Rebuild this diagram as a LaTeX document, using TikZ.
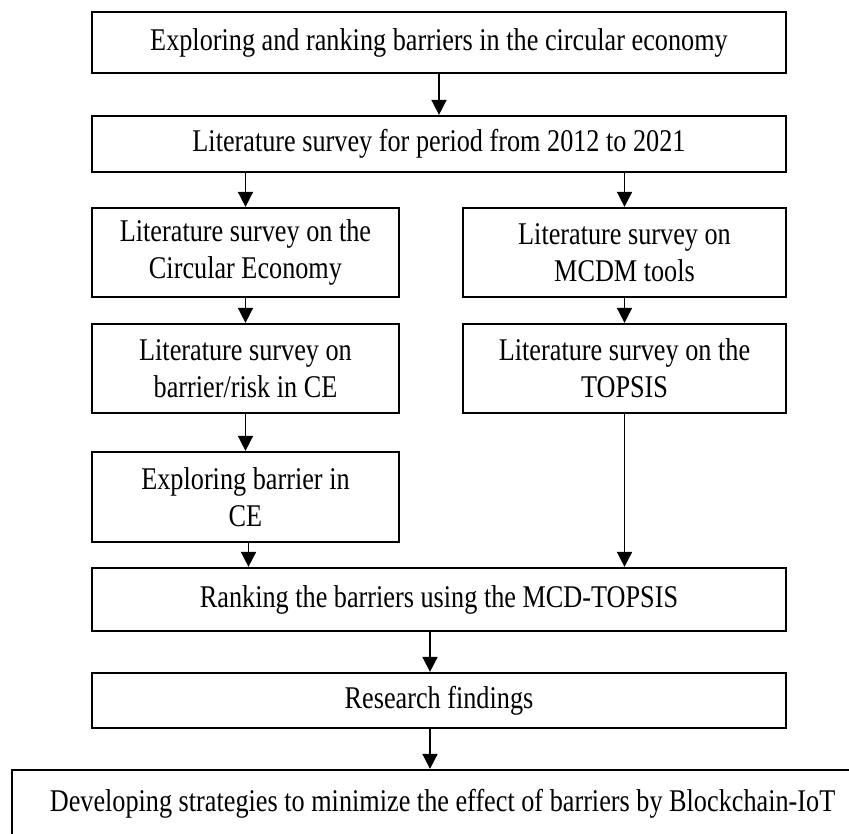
\documentclass[tikz,border=0pt]{standalone}
\usepackage{fontspec}
\setmainfont[FakeStretch=0.83]{Liberation Serif}
\usepackage{tikz}
\usetikzlibrary{arrows.meta}

\begin{document}
\begin{tikzpicture}[
    x=0.5pt, y=-0.5pt,
    every node/.style={draw, line width=1.1pt, align=center, inner sep=0pt,
      font=\fontsize{15.8}{18.5}\selectfont},
    seta/.style={-{Triangle[length=7.5pt,width=7.5pt]}, line width=0.8pt}
  ]
  \tikzset{
    larga/.style={minimum width=347pt},
    esq/.style={minimum width=153.5pt, minimum height=44.5pt},
    dir/.style={minimum width=161.5pt, minimum height=44.5pt}
  }
  \path[use as bounding box, clip] (0,0) rectangle (849,833);
  % caixas
  \node[larga, minimum height=30.5pt] (topo) at (439,42.5) {Exploring and ranking barriers in the circular economy};
  \node[larga, minimum height=28pt] (lit) at (439,144) {Literature survey for period from 2012 to 2021};
  \node[esq] (ce) at (245.5,252.5) {Literature survey on the\\Circular Economy};
  \node[dir] (mcdm) at (624.5,252.5) {Literature survey on\\MCDM tools};
  \node[esq] (risco) at (245.5,368.5) {Literature survey on\\barrier/risk in CE};
  \node[dir] (topsis) at (624.5,368.5) {Literature survey on the\\TOPSIS};
  \node[esq, minimum height=45pt] (expl) at (245.5,497) {Exploring barrier in\\CE};
  \node[larga, minimum height=31.5pt] (rank) at (439,599.5) {Ranking the barriers using the MCD-TOPSIS};
  \node[larga, minimum height=27.5pt] (res) at (439,700.5) {Research findings};
  \node[minimum width=430.5pt, minimum height=34pt] (estr) at (442.5,804) {Developing strategies to minimize the effect of barriers by Blockchain-IoT};
  % setas
  \draw[seta] (topo) -- (lit);
  \draw[seta] (ce.north |- lit.south) -- (ce);
  \draw[seta] (mcdm.north |- lit.south) -- (mcdm);
  \draw[seta] (ce) -- (risco);
  \draw[seta] (mcdm) -- (topsis);
  \draw[seta] (risco) -- (expl);
  \draw[seta] ([xshift=1.5pt]expl.south) -- ([xshift=1.5pt]expl.south |- rank.north);
  \draw[seta] (topsis) -- (topsis |- rank.north);
  \draw[seta] ([xshift=-4.5pt]rank.south) -- ([xshift=-4.5pt]res.north);
  \draw[seta] ([xshift=-4.5pt]res.south) -- ([xshift=-4.5pt]res.south |- estr.north);
\end{tikzpicture}
\end{document}
